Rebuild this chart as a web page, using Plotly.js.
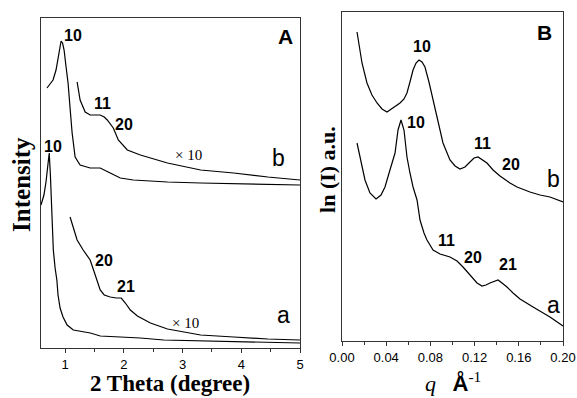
<!DOCTYPE html>
<html>
<head>
<meta charset="utf-8">
<script src="https://cdn.plot.ly/plotly-3.0.1.min.js"></script>
<style>html,body{margin:0;padding:0;background:#fff;}#chart{width:577px;height:398px;}</style>
</head>
<body>
<div id="chart"></div>
<script>
// ---- Panel A : XRD, 2 Theta (degree) vs intensity (arbitrary units) ----
const aMainX = [0.59, 0.64, 0.675, 0.71, 0.73, 0.75, 0.775, 0.80, 0.83, 0.86, 0.88, 0.915, 0.965, 1.035, 1.14, 1.43, 1.60, 1.94, 2.28, 2.68, 3.31, 4.16, 5.0];
const aMainY = [143, 153, 166, 188, 195, 173, 138, 98, 80, 68, 53, 40, 31, 23, 18, 15, 12, 11, 10, 8, 7, 6, 5];
const aX10X = [1.085, 1.137, 1.205, 1.308, 1.427, 1.496, 1.547, 1.598, 1.667, 1.769, 1.872, 1.957, 2.026, 2.111, 2.231, 2.453, 2.744, 3.051, 3.308, 3.872, 4.453, 5.0];
const aX10Y = [131, 120, 108, 98, 88, 76, 66, 58, 53, 51, 50, 50, 45, 38, 32, 25, 19, 16, 13, 11, 9, 8];
const bMainX = [0.692, 0.795, 0.846, 0.88, 0.915, 0.932, 0.957, 0.983, 1.017, 1.051, 1.085, 1.12, 1.171, 1.256, 1.427, 1.598, 1.769, 1.94, 2.162, 2.744, 3.308, 4.162, 5.0];
const bMainY = [260, 268, 278, 291, 303, 307, 305, 298, 281, 265, 240, 215, 191, 183, 180, 180, 175, 170, 168, 166, 165, 164, 163];
const bX10X = [1.205, 1.256, 1.342, 1.427, 1.513, 1.598, 1.667, 1.718, 1.821, 1.906, 2.06, 2.282, 2.744, 3.308, 3.872, 4.453, 5.0];
const bX10Y = [266, 248, 236, 233, 233, 233, 231, 228, 220, 208, 198, 193, 185, 178, 175, 171, 168];
const xTicksA = [1, 2, 3, 4, 5];

// ---- Panel B : SAXS, q (1/Å) vs ln(I) (arbitrary units) ----
const qB = [0.0136, 0.0181, 0.0226, 0.0271, 0.0317, 0.0362, 0.0407, 0.0462, 0.0525, 0.0561, 0.0588, 0.0615, 0.0643, 0.0670, 0.0697, 0.0724, 0.0751, 0.0787, 0.0824, 0.0869, 0.0914, 0.0977, 0.1023, 0.1068, 0.1113, 0.1158, 0.1195, 0.1231, 0.1267, 0.1312, 0.1367, 0.1430, 0.1520, 0.1584, 0.1701, 0.1792, 0.1882, 0.2000];
const lnIB = [309, 278, 258, 246, 238, 232, 229, 233, 238, 242, 248, 259, 271, 278, 281, 279, 274, 259, 241, 219, 198, 181, 175, 172, 174, 179, 183, 184, 181, 178, 171, 165, 158, 154, 149, 146, 144, 139];
const qA = [0.0136, 0.0172, 0.0208, 0.0253, 0.0308, 0.0353, 0.0389, 0.0434, 0.0480, 0.0507, 0.0534, 0.0561, 0.0588, 0.0615, 0.0643, 0.0679, 0.0706, 0.0742, 0.0769, 0.0824, 0.0887, 0.0977, 0.1041, 0.1095, 0.1158, 0.1222, 0.1267, 0.1303, 0.1339, 0.1385, 0.1412, 0.1448, 0.1493, 0.1548, 0.1611, 0.1729, 0.1882, 0.2000];
const lnIA = [198, 179, 161, 148, 142, 146, 154, 171, 188, 211, 221, 211, 184, 168, 154, 141, 121, 108, 101, 91, 87, 84, 80, 74, 66, 58, 55, 56, 58, 60, 61, 58, 54, 48, 42, 34, 24, 15];
const xTicksB = [0, 0.04, 0.08, 0.12, 0.16, 0.20];

// ---- Labels ----
const peakLabelsA = [
  {t: '10', x: 1.137, y: 312}, {t: '11', x: 1.632, y: 244}, {t: '20', x: 2.009, y: 223},
  {t: '10', x: 0.795, y: 202}, {t: '20', x: 1.667, y: 88}, {t: '21', x: 2.043, y: 62}
];
const peakLabelsB = [
  {t: '10', x: 0.0724, y: 295}, {t: '10', x: 0.0670, y: 219}, {t: '11', x: 0.1267, y: 198},
  {t: '20', x: 0.1529, y: 177}, {t: '11', x: 0.0950, y: 101}, {t: '20', x: 0.1186, y: 84}, {t: '21', x: 0.1502, y: 77}
];

const lineStyle = {color: '#000', width: 1.2};
const traces = [
  {x: aMainX, y: aMainY, xaxis: 'x', yaxis: 'y'},
  {x: aX10X, y: aX10Y, xaxis: 'x', yaxis: 'y'},
  {x: bMainX, y: bMainY, xaxis: 'x', yaxis: 'y'},
  {x: bX10X, y: bX10Y, xaxis: 'x', yaxis: 'y'},
  {x: qB, y: lnIB, xaxis: 'x2', yaxis: 'y2'},
  {x: qA, y: lnIA, xaxis: 'x2', yaxis: 'y2'}
].map(t => Object.assign(t, {type: 'scatter', mode: 'lines', line: lineStyle, hoverinfo: 'skip'}));

const sans = 'Liberation Sans, Arial, sans-serif';
const serif = 'Liberation Serif, Times New Roman, serif';
const ann = [];
peakLabelsA.forEach(p => ann.push({xref: 'x', yref: 'y', x: p.x, y: p.y, text: '<b>' + p.t + '</b>', showarrow: false, font: {family: sans, size: 16, color: '#000'}}));
peakLabelsB.forEach(p => ann.push({xref: 'x2', yref: 'y2', x: p.x, y: p.y, text: '<b>' + p.t + '</b>', showarrow: false, font: {family: sans, size: 16, color: '#000'}}));
ann.push({xref: 'x', yref: 'y', x: 4.761, y: 311, text: '<b>A</b>', showarrow: false, font: {family: sans, size: 21, color: '#000'}});
ann.push({xref: 'x2', yref: 'y2', x: 0.1837, y: 309, text: '<b>B</b>', showarrow: false, font: {family: sans, size: 21, color: '#000'}});
ann.push({xref: 'x', yref: 'y', x: 4.641, y: 190, text: 'b', showarrow: false, font: {family: sans, size: 23, color: '#000'}});
ann.push({xref: 'x', yref: 'y', x: 4.726, y: 33, text: 'a', showarrow: false, font: {family: sans, size: 23, color: '#000'}});
ann.push({xref: 'x2', yref: 'y2', x: 0.1910, y: 162, text: 'b', showarrow: false, font: {family: sans, size: 23, color: '#000'}});
ann.push({xref: 'x2', yref: 'y2', x: 0.1910, y: 36, text: 'a', showarrow: false, font: {family: sans, size: 23, color: '#000'}});
ann.push({xref: 'x', yref: 'y', x: 3.103, y: 193, text: '× 10', showarrow: false, font: {family: serif, size: 15, color: '#000'}});
ann.push({xref: 'x', yref: 'y', x: 3.051, y: 25, text: '× 10', showarrow: false, font: {family: serif, size: 15, color: '#000'}});
// axis titles
ann.push({xref: 'paper', yref: 'paper', x: 0.2946, y: 0.002, text: '<b>2 Theta (degree)</b>', showarrow: false, xanchor: 'center', yanchor: 'bottom', borderpad: 0, font: {family: serif, size: 23, color: '#000'}});
ann.push({xref: 'paper', yref: 'paper', x: 0.038, y: 0.5377, text: '<b>Intensity</b>', textangle: -90, showarrow: false, xanchor: 'center', yanchor: 'middle', font: {family: serif, size: 25, color: '#000'}});
ann.push({xref: 'paper', yref: 'paper', x: 0.5685, y: 0.573, text: '<b>ln (I) a.u.</b>', textangle: -90, showarrow: false, xanchor: 'center', yanchor: 'middle', font: {family: serif, size: 22, color: '#000'}});
ann.push({xref: 'paper', yref: 'paper', x: 0.785, y: 0.002, text: '<i>q</i>   <span style="font-family:Liberation Sans;font-weight:bold">Å</span><sup>-1</sup>', showarrow: false, xanchor: 'center', yanchor: 'bottom', borderpad: 0, font: {family: serif, size: 22, color: '#000'}});

const axisCommon = {showline: true, linecolor: '#333', linewidth: 1, mirror: true, showgrid: false, zeroline: false, automargin: false, fixedrange: true};
const layout = {
  width: 577, height: 398,
  margin: {l: 0, r: 0, t: 0, b: 0},
  paper_bgcolor: '#fff', plot_bgcolor: '#fff',
  showlegend: false,
  xaxis: Object.assign({}, axisCommon, {
    domain: [41/577, 300/577], range: [0.59, 5.0], tickvals: xTicksA, ticktext: xTicksA.map(String),
    ticks: 'outside', ticklen: 4, tickcolor: '#333', tickfont: {family: sans, size: 13, color: '#000'},
    minor: {dtick: 0.5, tick0: 0.5, ticks: 'outside', ticklen: 2.5, tickcolor: '#333'}, anchor: 'y'
  }),
  yaxis: Object.assign({}, axisCommon, {
    domain: [50/398, 380/398], range: [0, 330], showticklabels: false, ticks: '', anchor: 'x'
  }),
  xaxis2: Object.assign({}, axisCommon, {
    domain: [342/577, 563/577], range: [0, 0.2], tickvals: xTicksB, ticktext: xTicksB.map(v => v.toFixed(2)),
    ticks: 'outside', ticklen: 4, tickcolor: '#333', tickfont: {family: sans, size: 13, color: '#000'},
    minor: {dtick: 0.02, tick0: 0, ticks: 'outside', ticklen: 2.5, tickcolor: '#333'}, anchor: 'y2'
  }),
  yaxis2: Object.assign({}, axisCommon, {
    domain: [57/398, 386/398], range: [0, 329], showticklabels: false, ticks: '', anchor: 'x2'
  }),
  annotations: ann
};
Plotly.newPlot('chart', traces, layout, {staticPlot: true, displayModeBar: false});
</script>
</body>
</html>
